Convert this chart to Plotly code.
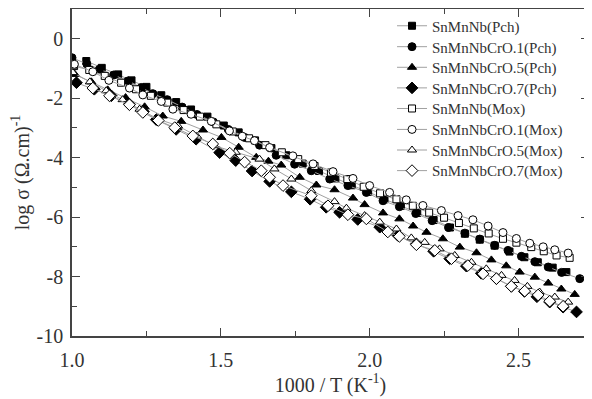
import plotly.graph_objects as go

# ---- data ----
pch_nb_x = [1.048, 1.10, 1.155, 1.20, 1.25, 1.30, 1.35, 1.40, 1.455, 1.51, 1.56, 1.615, 1.67, 1.72, 1.775, 1.83,
            1.885, 1.94, 1.995, 2.05, 2.105, 2.16, 2.215, 2.27, 2.32, 2.37, 2.42, 2.47, 2.52, 2.565, 2.615, 2.661]
pch_nb_y = [-0.75, -0.98, -1.20, -1.40, -1.62, -1.90, -2.13, -2.38, -2.62, -2.92, -3.15, -3.42, -3.68, -3.92, -4.20, -4.45,
            -4.70, -4.93, -5.15, -5.40, -5.62, -5.86, -6.10, -6.35, -6.56, -6.76, -6.96, -7.16, -7.35, -7.52, -7.70, -7.85]

pch_01_x = [1.00, 1.05, 1.092, 1.14, 1.188, 1.233, 1.272, 1.32, 1.37, 1.42, 1.475, 1.525, 1.58, 1.63, 1.686, 1.748, 1.804,
            1.866, 1.927, 1.989, 2.045, 2.10, 2.155, 2.21, 2.265, 2.32, 2.37, 2.42, 2.465, 2.51, 2.555, 2.60, 2.645, 2.706]
pch_01_y = [-0.64, -0.85, -1.03, -1.22, -1.42, -1.64, -1.85, -2.05, -2.30, -2.55, -2.80, -3.05, -3.32, -3.58, -3.92, -4.22, -4.44,
            -4.72, -4.94, -5.17, -5.45, -5.65, -5.88, -6.12, -6.35, -6.54, -6.74, -6.95, -7.12, -7.32, -7.50, -7.68, -7.86, -8.07]

pch_05_x = [1.01, 1.065, 1.12, 1.18, 1.244, 1.305, 1.367, 1.44, 1.502, 1.56, 1.619, 1.66, 1.703, 1.765, 1.821, 1.882,
            1.944, 1.983, 2.045, 2.10, 2.146, 2.191, 2.246, 2.303, 2.359, 2.409, 2.459, 2.504, 2.555, 2.60, 2.644, 2.689]
pch_05_y = [-1.20, -1.45, -1.72, -1.98, -2.29, -2.60, -2.78, -3.07, -3.32, -3.65, -3.99, -4.12, -4.25, -4.66, -4.92, -5.08,
            -5.36, -5.58, -5.86, -6.06, -6.30, -6.51, -6.73, -7.01, -7.20, -7.44, -7.64, -7.85, -8.02, -8.22, -8.42, -8.60]

pch_07_x = [1.015, 1.075, 1.132, 1.193, 1.24, 1.283, 1.35, 1.417, 1.496, 1.55, 1.605, 1.664, 1.737, 1.80, 1.854, 1.899,
            1.96, 2.034, 2.095, 2.157, 2.215, 2.269, 2.325, 2.375, 2.426, 2.476, 2.52, 2.562, 2.605, 2.65, 2.695]
pch_07_y = [-1.48, -1.70, -1.92, -2.20, -2.45, -2.72, -3.05, -3.38, -3.83, -4.10, -4.45, -4.80, -5.15, -5.40, -5.67, -5.84,
            -6.08, -6.34, -6.62, -6.90, -7.15, -7.40, -7.65, -7.89, -8.07, -8.33, -8.50, -8.68, -8.86, -9.03, -9.19]

mox_nb_x = [1.007, 1.058, 1.11, 1.165, 1.215, 1.265, 1.32, 1.375, 1.43, 1.485, 1.54, 1.595, 1.65, 1.705, 1.76, 1.815, 1.87,
            1.925, 1.98, 2.035, 2.09, 2.145, 2.20, 2.25, 2.30, 2.35, 2.40, 2.448, 2.493, 2.543, 2.585, 2.628, 2.672]
mox_nb_y = [-0.92, -1.05, -1.25, -1.48, -1.70, -1.92, -2.15, -2.40, -2.62, -2.88, -3.12, -3.35, -3.58, -3.82, -4.05, -4.28, -4.50,
            -4.72, -4.98, -5.20, -5.40, -5.62, -5.85, -6.02, -6.20, -6.38, -6.55, -6.73, -6.86, -7.01, -7.15, -7.29, -7.37]

mox_01_x = [1.008, 1.07, 1.124, 1.193, 1.238, 1.30, 1.339, 1.40, 1.468, 1.529, 1.572, 1.613, 1.664, 1.742, 1.81, 1.877,
            1.944, 2.0, 2.067, 2.123, 2.179, 2.241, 2.297, 2.347, 2.398, 2.448, 2.493, 2.538, 2.583, 2.622, 2.667]
mox_01_y = [-0.86, -1.11, -1.40, -1.66, -1.89, -2.11, -2.37, -2.54, -2.78, -3.10, -3.28, -3.43, -3.66, -3.94, -4.21, -4.47,
            -4.70, -4.94, -5.17, -5.42, -5.61, -5.78, -5.95, -6.09, -6.30, -6.52, -6.72, -6.88, -7.00, -7.10, -7.21]

mox_05_x = [1.003, 1.06, 1.115, 1.17, 1.227, 1.288, 1.356, 1.42, 1.479, 1.55, 1.63, 1.68, 1.737, 1.804, 1.882, 1.922,
            1.983, 2.034, 2.09, 2.14, 2.185, 2.235, 2.286, 2.342, 2.392, 2.443, 2.487, 2.53, 2.571, 2.622, 2.667]
mox_05_y = [-1.14, -1.45, -1.75, -2.05, -2.37, -2.70, -2.93, -3.28, -3.60, -3.82, -4.05, -4.38, -4.72, -5.11, -5.48, -5.70,
            -5.95, -6.17, -6.40, -6.70, -6.85, -7.07, -7.29, -7.52, -7.74, -7.96, -8.13, -8.33, -8.52, -8.69, -8.86]

mox_07_x = [1.07, 1.126, 1.193, 1.238, 1.29, 1.345, 1.406, 1.473, 1.53, 1.58, 1.636, 1.664, 1.709, 1.804, 1.86, 1.927,
            1.989, 2.061, 2.10, 2.157, 2.219, 2.275, 2.33, 2.381, 2.426, 2.476, 2.521, 2.566, 2.605, 2.65]
mox_07_y = [-1.66, -1.92, -2.22, -2.48, -2.75, -2.99, -3.27, -3.54, -3.85, -4.15, -4.44, -4.66, -4.94, -5.28, -5.62, -5.92,
            -6.06, -6.50, -6.65, -6.93, -7.12, -7.40, -7.63, -7.91, -8.07, -8.33, -8.49, -8.62, -8.83, -9.00]

series_names = ["SnMnNb(Pch)", "SnMnNbCrO.1(Pch)", "SnMnNbCrO.5(Pch)", "SnMnNbCrO.7(Pch)",
                "SnMnNb(Mox)", "SnMnNbCrO.1(Mox)", "SnMnNbCrO.5(Mox)", "SnMnNbCrO.7(Mox)"]

y_tick_vals = [0, -2, -4, -6, -8, -10]
y_tick_text = ["0", "-2", "-4", "-6", "-8", "-10"]
x_tick_vals = [1.0, 1.5, 2.0, 2.5]
x_tick_text = ["1.0", "1.5", "2.0", "2.5"]

# ---- styles ----
xs = [pch_nb_x, pch_01_x, pch_05_x, pch_07_x, mox_nb_x, mox_01_x, mox_05_x, mox_07_x]
ys = [pch_nb_y, pch_01_y, pch_05_y, pch_07_y, mox_nb_y, mox_01_y, mox_05_y, mox_07_y]
symbols = ["square", "circle", "triangle-up", "diamond", "square", "circle", "triangle-up", "diamond"]
fills = ["black"] * 4 + ["white"] * 4
sizes = [7, 8, 8, 9, 7, 8, 8, 9]
# one legend box per entry so the row spacing can follow the reference
legend_ids = ["legend", "legend2", "legend3", "legend4", "legend5", "legend6", "legend7", "legend8"]
legend_rows_y = [0.948, 0.884, 0.821, 0.758, 0.695, 0.631, 0.568, 0.505]

fig = go.Figure()
for i in range(8):
    fig.add_trace(go.Scatter(
        x=xs[i], y=ys[i], mode="lines+markers", name=series_names[i],
        legend=legend_ids[i],
        line=dict(color="#a0a0a0", width=1),
        marker=dict(symbol=symbols[i], size=sizes[i], color=fills[i],
                    line=dict(color="black", width=1)),
    ))

font_family = "Liberation Serif, Times New Roman, serif"
axis_common = dict(
    showline=True, linecolor="#444", linewidth=1.5, mirror="allticks",
    ticks="inside", ticklen=8, tickwidth=1.3, tickcolor="#444",
    showgrid=False, zeroline=False, automargin=False,
    tickfont=dict(family=font_family, size=20, color="#333"),
)

legend_layout = {}
for i in range(8):
    legend_layout[legend_ids[i]] = dict(
        x=0.619, y=legend_rows_y[i], xanchor="left", yanchor="middle",
        font=dict(family=font_family, size=15, color="#333"),
        bgcolor="rgba(0,0,0,0)", borderwidth=0,
    )

# the page body adds an 8 px offset, so the figure is 8 px smaller than the window
fig.update_layout(
    width=584, height=391,
    margin=dict(l=64, r=3, t=1, b=63),
    paper_bgcolor="white", plot_bgcolor="white",
    font=dict(family=font_family, color="#333"),
    showlegend=True,
    **legend_layout,
)
fig.update_xaxes(range=[1.0, 2.737], tickvals=x_tick_vals, ticktext=x_tick_text,
                 ticklabelstandoff=5,
                 minor=dict(ticks="inside", dtick=0.25, tick0=1.0, ticklen=5, tickcolor="#444"),
                 title=dict(text="1000 / T (K<sup>-1</sup>)", font=dict(family=font_family, size=20, color="#333"),
                            standoff=8),
                 **axis_common)
fig.update_yaxes(range=[-10, 1.0], tickvals=y_tick_vals, ticktext=y_tick_text,
                 ticklabelstandoff=3,
                 minor=dict(ticks="inside", dtick=1, tick0=0, ticklen=5, tickcolor="#444"),
                 title=dict(text="log σ (Ω.cm)<sup>-1</sup>", font=dict(family=font_family, size=20, color="#333"),
                            standoff=2),
                 **axis_common)

fig.write_html("out.html")
